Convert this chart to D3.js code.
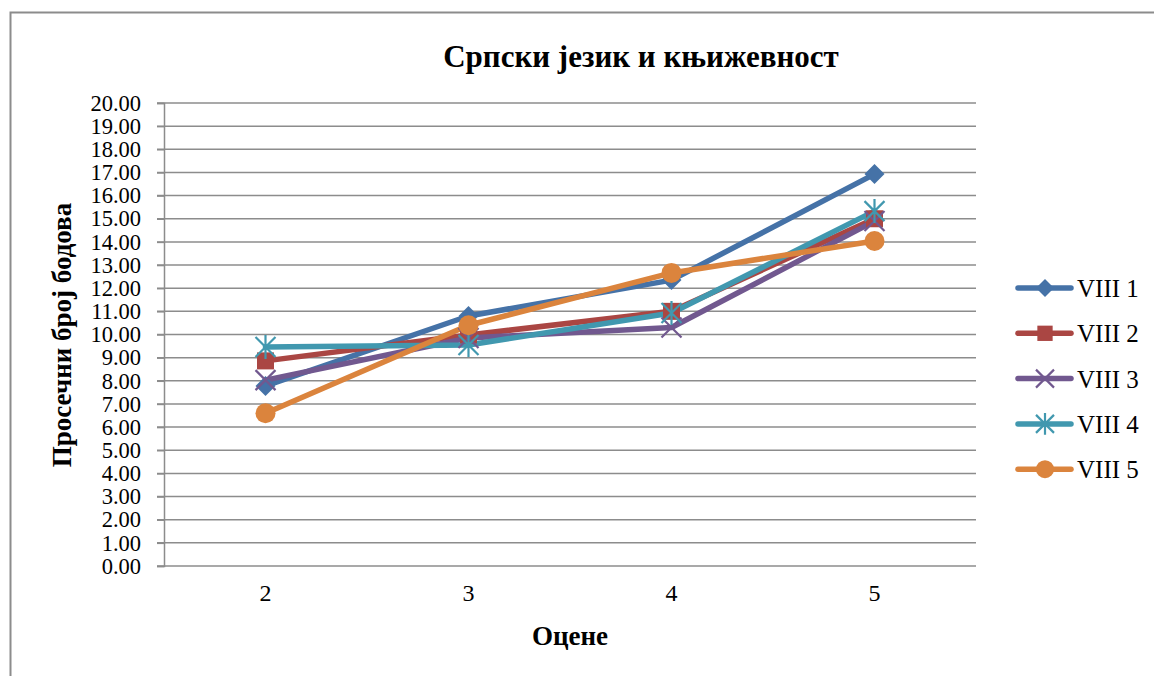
<!DOCTYPE html>
<html>
<head>
<meta charset="utf-8">
<script src="https://cdn.jsdelivr.net/npm/d3@7"></script>
<style>
  body { margin: 0; background: #fff; }
  svg text { font-family: "Liberation Serif", "Times New Roman", serif; }
</style>
</head>
<body>
<div id="chart"></div>
<script>
const grades = ['2', '3', '4', '5'];
const seriesNames = ['VIII 1', 'VIII 2', 'VIII 3', 'VIII 4', 'VIII 5'];
const viii1 = [7.78, 10.8, 12.35, 16.93];
const viii2 = [8.86, 9.98, 11.0, 15.0];
const viii3 = [8.03, 9.85, 10.3, 14.9];
const viii4 = [9.46, 9.55, 10.93, 15.33];
const viii5 = [6.6, 10.4, 12.66, 14.04];
const yTicks = d3.range(0, 21, 1);

const colors = ['#4572a7', '#aa4643', '#71588f', '#4198af', '#db843d'];
const symbols = ['diamond', 'square', 'x', 'star', 'circle'];
const allSeries = [viii1, viii2, viii3, viii4, viii5];

const width = 1154, height = 676;
const margin = { top: 103, right: 178, bottom: 110, left: 164 };

const svg = d3.select('#chart').append('svg')
  .attr('width', width)
  .attr('height', height);

// outer frame, cut off at right and bottom
svg.append('path')
  .attr('d', `M10.5,${height} V12.5 H${width}`)
  .attr('fill', 'none')
  .attr('stroke', '#8c8c8c')
  .attr('stroke-width', 2);

const x = d3.scaleBand()
  .domain(grades)
  .range([margin.left, width - margin.right]);

const y = d3.scaleLinear()
  .domain([0, 20])
  .range([height - margin.bottom, margin.top]);

// gridlines
svg.append('g')
  .selectAll('line')
  .data(yTicks)
  .join('line')
    .attr('x1', margin.left - 7)
    .attr('x2', width - margin.right)
    .attr('y1', d => y(d))
    .attr('y2', d => y(d))
    .attr('stroke', '#8c8c8c')
    .attr('stroke-width', 1.5);

// y axis
const yAxis = svg.append('g')
  .attr('transform', `translate(${margin.left},0)`)
  .call(d3.axisLeft(y).tickValues(yTicks).tickFormat(d3.format('.2f')).tickSize(7).tickPadding(16));
yAxis.attr('font-family', null);
yAxis.select('.domain').attr('stroke', '#8c8c8c').attr('stroke-width', 1.5);
yAxis.selectAll('.tick line').attr('stroke', '#8c8c8c').attr('stroke-width', 1.5);
yAxis.selectAll('text')
  .attr('font-size', 22.5)
  .attr('fill', '#000');

// x axis labels
const xAxis = svg.append('g')
  .attr('transform', `translate(0,${height - margin.bottom})`)
  .call(d3.axisBottom(x).tickSize(0).tickPadding(18));
xAxis.attr('font-family', null);
xAxis.select('.domain').remove();
xAxis.selectAll('text')
  .attr('font-size', 24)
  .attr('fill', '#000');

// titles
svg.append('text')
  .attr('x', 641).attr('y', 67)
  .attr('text-anchor', 'middle')
  .attr('font-size', 31).attr('font-weight', 'bold')
  .text('Српски језик и књижевност');

svg.append('text')
  .attr('x', 570).attr('y', 645)
  .attr('text-anchor', 'middle')
  .attr('font-size', 27).attr('font-weight', 'bold')
  .text('Оцене');

svg.append('text')
  .attr('transform', `translate(71,335) rotate(-90)`)
  .attr('text-anchor', 'middle')
  .attr('font-size', 27).attr('font-weight', 'bold')
  .text('Просечни број бодова');

function drawMarker(g, type, color, size) {
  const s = size;
  if (type === 'diamond') {
    g.append('path').attr('d', `M0,${-s}L${s},0L0,${s}L${-s},0Z`).attr('fill', color);
  } else if (type === 'square') {
    g.append('rect').attr('x', -s * 0.85).attr('y', -s * 0.85)
      .attr('width', s * 1.7).attr('height', s * 1.7).attr('fill', color);
  } else if (type === 'x') {
    g.append('path').attr('d', `M${-s},${-s}L${s},${s}M${-s},${s}L${s},${-s}`)
      .attr('stroke', color).attr('stroke-width', 2.2);
  } else if (type === 'star') {
    g.append('path').attr('d', `M${-s},${-s}L${s},${s}M${-s},${s}L${s},${-s}M0,${-s * 1.2}L0,${s * 1.2}`)
      .attr('stroke', color).attr('stroke-width', 2.2);
  } else {
    g.append('circle').attr('r', s).attr('fill', color);
  }
}

const line = d3.line()
  .x((d, i) => x(grades[i]) + x.bandwidth() / 2)
  .y(d => y(d));

allSeries.forEach((vals, si) => {
  svg.append('path')
    .datum(vals)
    .attr('d', line)
    .attr('fill', 'none')
    .attr('stroke', colors[si])
    .attr('stroke-width', 5.5)
    .attr('stroke-linejoin', 'round')
    .attr('stroke-linecap', 'round');
});

allSeries.forEach((vals, si) => {
  vals.forEach((v, i) => {
    const g = svg.append('g')
      .attr('transform', `translate(${x(grades[i]) + x.bandwidth() / 2},${y(v)})`);
    drawMarker(g, symbols[si], colors[si], 10);
  });
});

// legend
const legend = svg.append('g').attr('transform', 'translate(1018,288)');
seriesNames.forEach((name, i) => {
  const g = legend.append('g').attr('transform', `translate(0,${i * 45.3})`);
  g.append('line')
    .attr('x1', 0).attr('x2', 53)
    .attr('stroke', colors[i]).attr('stroke-width', 5.5)
    .attr('stroke-linecap', 'round');
  const m = g.append('g').attr('transform', 'translate(27,0)');
  drawMarker(m, symbols[i], colors[i], 9);
  g.append('text')
    .attr('x', 59).attr('y', 9)
    .attr('font-size', 25)
    .text(name);
});
</script>
</body>
</html>
